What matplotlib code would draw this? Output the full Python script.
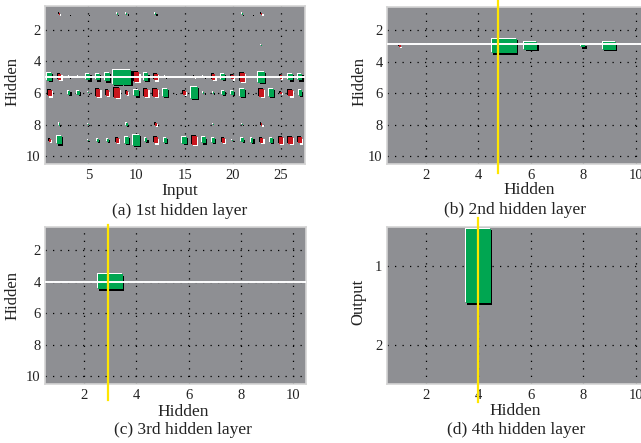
import numpy as np
import matplotlib
matplotlib.use("Agg")
import matplotlib.pyplot as plt
import matplotlib.transforms as mtransforms
from matplotlib.patches import Rectangle

plt.rcParams['font.family'] = ['Liberation Serif', 'DejaVu Serif']

# weights (signed, 1.0 = full cell)
layer1 = [
    [0, -0.14, 0.06, 0, 0.05, 0, 0, 0.08, 0.12, 0, 0, 0.15, 0, 0, 0, 0, 0, 0.05, 0, 0, 0.08, 0.08, -0.15, 0, 0, 0, 0],
    [0] * 27,
    [0, 0, 0, 0, 0, 0, 0, 0, 0, 0, 0, 0.05, 0, 0, 0, 0, 0, 0, 0, 0, 0, 0, 0.05, 0, 0, 0, 0],
    [0] * 27,
    [0.52, -0.4, 0.1, 0.08, 0.45, 0.45, 0.55, 1.0, 1.0, -0.62, 0.5, -0.45, 0.1, 0, 0, -0.1, 0.1, -0.38, 0.4, -0.3, -0.6, 0, 0.72, 0, -0.22, 0.45, 0.45],
    [-0.45, 0.05, 0.3, 0.3, 0.06, -0.5, -0.35, -0.62, -0.25, 0.45, -0.5, -0.5, 0.5, 0.08, -0.3, 0.8, 0.12, 0.12, 0.3, 0.3, 0.5, 0.08, -0.5, 0.5, -0.15, -0.45, 0.35],
    [0] * 27,
    [0.06, 0.15, 0.08, 0, 0.06, 0.06, 0, 0.06, 0.15, 0, 0, -0.18, 0, 0, 0, 0, 0, 0.06, 0, 0.06, 0.08, 0.08, -0.15, 0, 0, 0, 0],
    [-0.22, 0.55, 0, 0, 0.08, 0.2, 0.2, -0.35, 0.45, 0.75, 0.25, -0.4, 0.3, 0, 0.5, -0.6, 0.4, 0.35, -0.35, 0.1, 0.25, 0.3, -0.35, 0.3, -0.45, -0.45, -0.4],
    [0] * 27,
]
layer2_row3 = [-0.08, 0, 0, 0, 1.0, 0.53, 0, 0.18, 0.52, 0]
layer3_row4 = [0, 0, 1.0, 0, 0, 0, 0, 0, 0, 0]
layer4_row1 = [0, 0, 0, 1.0, 0, 0, 0, 0, 0, 0]

layer2 = [[0] * 10 for _ in range(10)]
layer2[2] = layer2_row3
layer3 = [[0] * 10 for _ in range(10)]
layer3[3] = layer3_row4
layer4 = [layer4_row1, [0] * 10]

# cursor lines: (white row, yellow column)
cursors = {
    'a': (5.0, None),
    'b': (2.85, 4.76),
    'c': (4.0, 2.92),
    'd': (None, 4.0),
}

GREEN = '#00a651'
RED = '#c8161e'
BG = '#8e8f93'
W, H = 641, 443


def fx(px):
    return px / W


def fy(py):
    return 1 - py / H


def hinton(ax, weights):
    weights = np.asarray(weights, dtype=float)
    fig = ax.figure
    lo = mtransforms.offset_copy(ax.transData, fig=fig, x=1.3, y=-1.3, units='dots')
    hi = mtransforms.offset_copy(ax.transData, fig=fig, x=-1.0, y=1.0, units='dots')
    for (i, j), w in np.ndenumerate(weights):
        if w == 0:
            continue
        s = abs(w) * 0.95
        x0, y0 = j + 1 - s / 2, i + 1 - s / 2
        if w > 0:
            c_hi, c_lo, fill = 'white', 'black', GREEN
        else:
            c_hi, c_lo, fill = 'black', 'white', RED
        ax.add_patch(Rectangle((x0, y0), s, s, color=c_hi, lw=0, transform=hi, zorder=2))
        ax.add_patch(Rectangle((x0, y0), s, s, color=c_lo, lw=0, transform=lo, zorder=2))
        ax.add_patch(Rectangle((x0, y0), s, s, color=fill, lw=0, zorder=3))


def style(ax, xticks, yticks, xmax, ymax):
    ax.set_facecolor(BG)
    ax.set_xlim(0.5, xmax + 0.5)
    ax.set_ylim(ymax + 0.5, 0.5)
    ax.set_xticks(xticks)
    ax.set_yticks(yticks)
    ax.set_axisbelow(True)
    ax.grid(True, color='black', linestyle=(0, (1, 5)), linewidth=0.9)
    ax.tick_params(length=0, labelsize=10.5, colors='#222222')
    ax.tick_params(axis='x', pad=3.5)
    ax.tick_params(axis='y', pad=3)
    for sp in ax.spines.values():
        sp.set_color('#d4d4d4')
        sp.set_linewidth(1.2)


def cursor(ax, key, ylims):
    row, col = cursors[key]
    if row is not None:
        ax.axhline(row, color='white', lw=1.4, zorder=5)
    if col is not None:
        ax.plot([col, col], ylims, color='#ffe600', lw=1.6, zorder=6, clip_on=False)


fig = plt.figure(figsize=(6.41, 4.43), dpi=100)

ax_a = fig.add_axes([fx(45), fy(164), fx(260), 158 / H])
ax_b = fig.add_axes([fx(386.7), fy(164), fx(262), 157.3 / H])
ax_c = fig.add_axes([fx(45), fy(384.3), fx(261), 157.6 / H])
ax_d = fig.add_axes([fx(386.7), fy(384), fx(262), 157.3 / H])

style(ax_a, [5, 10, 15, 20, 25], [2, 4, 6, 8, 10], 27, 10)
hinton(ax_a, layer1)
cursor(ax_a, 'a', None)

style(ax_b, [2, 4, 6, 8, 10], [2, 4, 6, 8, 10], 10, 10)
hinton(ax_b, layer2)
cursor(ax_b, 'b', [0.07, 11.06])

style(ax_c, [2, 4, 6, 8, 10], [2, 4, 6, 8, 10], 10, 10)
hinton(ax_c, layer3)
cursor(ax_c, 'c', [0.39, 11.5])

style(ax_d, [2, 4, 6, 8, 10], [1, 2], 10, 2)
hinton(ax_d, layer4)
cursor(ax_d, 'd', [0.39, 2.73])

txt = dict(ha='center', va='center', color='#222222')
# x labels
fig.text(fx(179.5), fy(191), 'Input', fontsize=12.5, **txt)
fig.text(fx(529.5), fy(190.5), 'Hidden', fontsize=12.5, **txt)
fig.text(fx(183.7), fy(412.5), 'Hidden', fontsize=12.5, **txt)
fig.text(fx(515.5), fy(411), 'Hidden', fontsize=12.5, **txt)
# y labels
fig.text(fx(13), fy(81.7), 'Hidden', fontsize=12, rotation=90, **txt)
fig.text(fx(359.3), fy(81.7), 'Hidden', fontsize=12, rotation=90, **txt)
fig.text(fx(12.3), fy(295), 'Hidden', fontsize=12, rotation=90, **txt)
fig.text(fx(358.3), fy(301.7), 'Output', fontsize=12, rotation=90, **txt)
# captions
fig.text(fx(180), fy(211), '(a) 1st hidden layer', fontsize=12.5, **txt)
fig.text(fx(515.3), fy(210.5), '(b) 2nd hidden layer', fontsize=12.5, **txt)
fig.text(fx(183), fy(430), '(c) 3rd hidden layer', fontsize=12.5, **txt)
fig.text(fx(516), fy(429.5), '(d) 4th hidden layer', fontsize=12.5, **txt)

fig.savefig('out.png', dpi=100, facecolor='white')
